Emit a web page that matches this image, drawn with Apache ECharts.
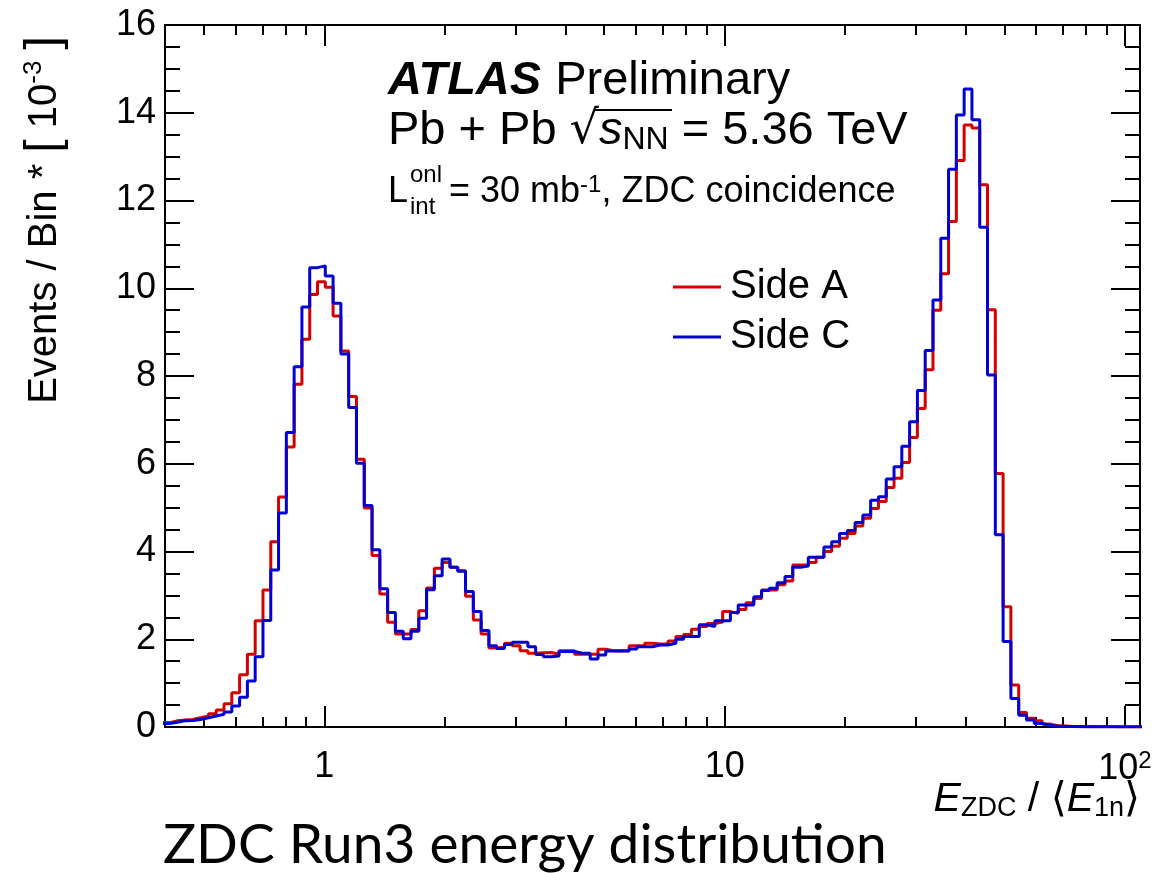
<!DOCTYPE html>
<html><head><meta charset="utf-8">
<script src="https://cdn.jsdelivr.net/npm/echarts@6/dist/echarts.min.js"></script>
<style>html,body{margin:0;padding:0;background:#fff}#c{width:1157px;height:873px}</style>
</head><body><div id="c"></div>
<script>
// Histogram binning (log10 of E_ZDC/<E_1n>): first bin lower edge and bin width
const BIN_LOG_START = -0.4062;
const BIN_LOG_WIDTH = 0.01946;

// Events / Bin * [10^-3], Side A
const sideA = [
0.10,0.14,0.16,0.17,0.21,0.25,0.30,0.39,0.53,0.78,
1.19,1.66,2.42,3.12,4.22,5.24,6.38,7.81,8.84,9.86,
10.15,10.02,9.37,8.57,7.53,6.10,4.99,3.91,3.03,2.39,
2.12,2.12,2.22,2.65,3.17,3.62,3.75,3.64,3.56,2.98,
2.44,2.12,1.80,1.82,1.91,1.85,1.74,1.68,1.69,1.70,
1.66,1.74,1.74,1.66,1.66,1.66,1.77,1.74,1.74,1.74,
1.85,1.85,1.91,1.89,1.89,1.96,2.06,2.11,2.23,2.29,
2.36,2.39,2.63,2.59,2.68,2.83,2.93,3.12,3.12,3.24,
3.33,3.69,3.69,3.75,3.87,4.00,4.12,4.30,4.41,4.58,
4.76,4.98,5.14,5.46,5.67,6.03,6.60,7.26,8.14,9.50,
10.33,11.52,12.91,13.72,13.65,12.36,9.51,5.78,2.74,0.96,
0.33,0.20,0.14,0.07,0.03,0.02,0.01,0.01,0.005,0.005,
0.003,0.003,0.002,0.002,0.002,0.002];

// Side C
const sideC = [
0.08,0.11,0.14,0.15,0.17,0.21,0.25,0.29,0.34,0.48,
0.68,1.05,1.60,2.43,3.58,4.88,6.71,8.21,9.57,10.47,
10.51,10.28,9.66,8.50,7.28,6.01,5.05,4.04,3.15,2.61,
2.18,2.01,2.18,2.48,3.13,3.45,3.83,3.64,3.55,3.09,
2.63,2.20,1.85,1.79,1.88,1.93,1.93,1.83,1.65,1.60,
1.62,1.72,1.72,1.68,1.68,1.55,1.64,1.73,1.73,1.73,
1.78,1.83,1.83,1.87,1.87,1.91,2.00,2.06,2.06,2.33,
2.29,2.42,2.42,2.61,2.78,2.78,2.97,3.11,3.16,3.29,
3.43,3.64,3.67,3.87,3.87,4.10,4.22,4.41,4.48,4.66,
4.83,5.17,5.25,5.65,5.93,6.40,6.96,7.67,8.58,9.73,
11.14,12.71,13.95,14.54,13.84,11.39,8.02,4.38,1.95,0.65,
0.27,0.16,0.08,0.04,0.02,0.01,0.01,0.005,0.005,0.004,
0.003,0.003,0.003,0.003,0.003,0.003];

const seriesNames = ['Side A', 'Side C'];
const xMin = 0.4, xMax = 109;
const xMajorTicks = [1, 10, 100];
const xTickLabels = ['1', '10', '10²'];
const xMinorTicks = [0.5,0.6,0.7,0.8,0.9,2,3,4,5,6,7,8,9,20,30,40,50,60,70,80,90];
const yMin = 0, yMax = 16, yStep = 2;

function histData(vals) {
  const d = vals.map((v, i) => [BIN_LOG_START + i * BIN_LOG_WIDTH, v]);
  d.push([BIN_LOG_START + vals.length * BIN_LOG_WIDTH, vals[vals.length - 1]]);
  return d;
}
const lg = v => Math.log10(v);
const HELV = 'Liberation Sans, Arial, Helvetica, sans-serif';
const RED = '#d40000', BLUE = '#0000d4';

const majorLog = xMajorTicks.map(lg);
const minorLog = xMinorTicks.map(lg);

function xAx(pos, major, labels) {
  return {
    type: 'value', position: pos, min: lg(xMin), max: lg(xMax),
    axisLine: { show: major, onZero: false, lineStyle: { color: '#000', width: 2 } },
    axisTick: { show: true, inside: true, length: major ? 21 : 10, customValues: major ? majorLog : minorLog,
      lineStyle: { color: '#000', width: 2 } },
    axisLabel: labels ? {
      show: true, customValues: majorLog, margin: 22, color: '#000',
      fontFamily: HELV, fontSize: 36,
      formatter: v => {
        const i = majorLog.findIndex(m => Math.abs(m - v) < 1e-6);
        const t = xTickLabels[i];
        return t === '10²' ? '{b|10}{s|2}' : '{b|' + t + '}';
      },
      rich: { b: { fontSize: 36, fontFamily: HELV, color: '#000' },
              s: { fontSize: 24, fontFamily: HELV, color: '#000', verticalAlign: 'top', padding: [0, 0, 16, 0] } }
    } : { show: false },
    splitLine: { show: false }
  };
}
function yAx(pos, labels) {
  return {
    type: 'value', position: pos, min: yMin, max: yMax, interval: yStep,
    axisLine: { show: true, onZero: false, lineStyle: { color: '#000', width: 2 } },
    axisTick: { show: true, inside: true, length: 29, lineStyle: { color: '#000', width: 2 } },
    minorTick: { show: true, splitNumber: 4, length: 15, lineStyle: { color: '#000', width: 2 } },
    axisLabel: labels ? { show: true, margin: 9, color: '#000', fontFamily: HELV, fontSize: 36 } : { show: false },
    splitLine: { show: false }
  };
}

const chart = echarts.init(document.getElementById('c'), null, { renderer: 'canvas' });
chart.setOption({
  backgroundColor: '#fff',
  animation: false,
  grid: { left: 165, right: 17, top: 25, bottom: 146, containLabel: false },
  xAxis: [xAx('bottom', true, true), xAx('bottom', false, false), xAx('top', true, false), xAx('top', false, false)],
  yAxis: [yAx('left', true), yAx('right', false)],
  legend: {
    data: seriesNames, orient: 'vertical', left: 668, top: 262, itemGap: 10,
    icon: 'rect', itemWidth: 48, itemHeight: 3,
    textStyle: { fontFamily: HELV, fontSize: 40, color: '#000', lineHeight: 40, padding: [0, 0, 0, 4] }
  },
  series: [
    { name: seriesNames[0], type: 'line', step: 'end', data: histData(sideA), showSymbol: false, symbol: 'none',
      xAxisIndex: 0, yAxisIndex: 0, clip: true,
      lineStyle: { color: RED, width: 3 }, itemStyle: { color: RED } },
    { name: seriesNames[1], type: 'line', step: 'end', data: histData(sideC), showSymbol: false, symbol: 'none',
      xAxisIndex: 0, yAxisIndex: 0, clip: true,
      lineStyle: { color: BLUE, width: 3 }, itemStyle: { color: BLUE } }
  ],
  graphic: [
    { type: 'text', x: 388, y: 81, style: {
        text: '{a|ATLAS}{p|Preliminary}', textVerticalAlign: 'middle',
        rich: { a: { font: 'italic bold 47px ' + HELV, fill: '#000' },
                p: { font: '47px ' + HELV, fill: '#000', padding: [0, 0, 0, 14] } } } },
    { type: 'text', x: 388, y: 131, style: {
        text: '{n|Pb + Pb }{r|√}{i|s}{sub|NN}{n| = 5.36 TeV}', textVerticalAlign: 'middle',
        rich: { n: { font: '47px ' + HELV, fill: '#000' }, r: { font: '46px DejaVu Sans', fill: '#000' },
                i: { font: 'italic 47px ' + HELV, fill: '#000' },
                sub: { font: '32px ' + HELV, fill: '#000', verticalAlign: 'bottom', padding: [18, 0, 0, 0] } } } },
    { type: 'line', shape: { x1: 594, y1: 110, x2: 672, y2: 110 }, style: { stroke: '#000', lineWidth: 2 } },
    { type: 'text', x: 388, y: 192, style: { text: 'L', font: '36px ' + HELV, fill: '#000', textVerticalAlign: 'middle' } },
    { type: 'text', x: 410, y: 175, style: { text: 'onl', font: '24px ' + HELV, fill: '#000', textVerticalAlign: 'middle' } },
    { type: 'text', x: 410, y: 207, style: { text: 'int', font: '24px ' + HELV, fill: '#000', textVerticalAlign: 'middle' } },
    { type: 'text', x: 449, y: 192, style: {
        text: '{n|= 30 mb}{s|-1}{n|, ZDC coincidence}', textVerticalAlign: 'middle',
        rich: { n: { font: '36px ' + HELV, fill: '#000' },
                s: { font: '24px ' + HELV, fill: '#000', verticalAlign: 'top', padding: [0, 0, 14, 0] } } } },
    { type: 'text', x: 45, y: 220, rotation: Math.PI / 2, style: {
        text: '{n|Events / Bin * }{b|[}{n| 10}{s|-3}{n| }{b|]}', textAlign: 'center', textVerticalAlign: 'middle',
        rich: { n: { font: '40px ' + HELV, fill: '#000' }, b: { font: '48px ' + HELV, fill: '#000' },
                s: { font: '26px ' + HELV, fill: '#000', verticalAlign: 'top', padding: [0, 0, 17, 0] } } } },
    { type: 'text', x: 1140, y: 800, style: {
        text: '{i|E}{sub|ZDC}{n| / ⟨}{i|E}{sub|1n}{n|⟩}', textAlign: 'right', textVerticalAlign: 'middle',
        rich: { i: { font: 'italic 41px ' + HELV, fill: '#000' }, n: { font: '41px ' + HELV + ', DejaVu Sans', fill: '#000' },
                sub: { font: '27px ' + HELV, fill: '#000', verticalAlign: 'bottom', padding: [17, 0, 0, 0] } } } },
    { type: 'text', x: 163, y: 845, style: { text: 'ZDC Run3 energy distribution', font: '55px Lato, Open Sans, sans-serif',
        fill: '#000', textVerticalAlign: 'middle' } }
  ]
});
</script></body></html>
